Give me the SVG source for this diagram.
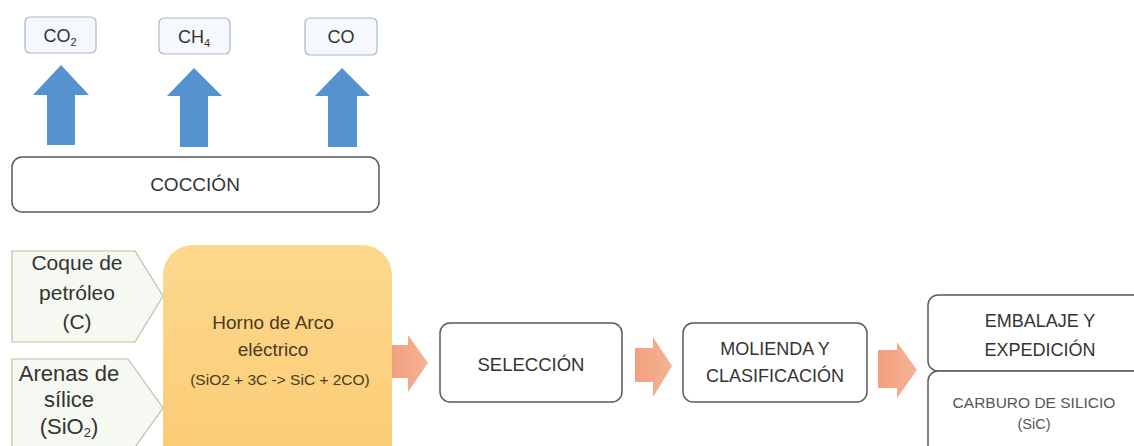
<svg xmlns="http://www.w3.org/2000/svg" width="1134" height="446" viewBox="0 0 1134 446">
<defs>
<linearGradient id="horno" x1="0" y1="0" x2="0" y2="1">
<stop offset="0" stop-color="#fdd88e"/>
<stop offset="1" stop-color="#fbcb73"/>
</linearGradient>
<linearGradient id="orng" x1="0" y1="0" x2="1" y2="0">
<stop offset="0" stop-color="#f1a07f"/>
<stop offset="1" stop-color="#f6b394"/>
</linearGradient>
<style>
.t{font-family:"Liberation Sans",Arial,sans-serif;fill:#333;text-anchor:middle}
.gas{fill:#f5f8fc;stroke:#a9b6c6;stroke-width:1.2}
.box{fill:#fff;stroke:#5a5a5a;stroke-width:1.5}
.inp{fill:#f6f9f1;stroke:#b3c59e;stroke-width:1.2}
.blue{fill:#5592d0}
.org{fill:url(#orng)}
</style>
</defs>
<rect width="1134" height="446" fill="#fff"/>

<g id="gas-co2">
<rect class="gas" x="25" y="17" width="71" height="36" rx="5"/>
<text class="t" x="60" y="42" font-size="18">CO<tspan font-size="11" dy="4">2</tspan></text>
</g>
<g id="gas-ch4">
<rect class="gas" x="159" y="18" width="71" height="36" rx="5"/>
<text class="t" x="194" y="43" font-size="18">CH<tspan font-size="11" dy="4">4</tspan></text>
</g>
<g id="gas-co">
<rect class="gas" x="305" y="18" width="72" height="37" rx="5"/>
<text class="t" x="341" y="43" font-size="18">CO</text>
</g>

<g id="coccion">
<rect class="box" x="12" y="157" width="367" height="55" rx="10"/>
<text class="t" x="195" y="191" font-size="19">COCCIÓN</text>
</g>

<g id="coque">
<polygon class="inp" points="12,251 135,251 163,296 135,342 12,342"/>
<text class="t" x="77" y="270" font-size="21">Coque de</text>
<text class="t" x="77" y="300" font-size="21">petróleo</text>
<text class="t" x="77" y="329" font-size="21">(C)</text>
</g>
<g id="arenas">
<polygon class="inp" points="12,359 128,359 163,408 128,457 12,457"/>
<text class="t" x="69" y="381" font-size="22">Arenas de</text>
<text class="t" x="69" y="407" font-size="22">sílice</text>
<text class="t" x="69" y="434" font-size="22">(SiO<tspan font-size="13" dy="3">2</tspan><tspan dy="-3">)</tspan></text>
</g>

<g id="horno">
<rect x="163" y="245" width="229" height="230" rx="30" fill="url(#horno)"/>
<text class="t" x="273" y="329" font-size="19" style="fill:#4a3b22">Horno de Arco</text>
<text class="t" x="273" y="356" font-size="19" style="fill:#4a3b22">eléctrico</text>
<text class="t" x="280" y="385" font-size="15.5" style="fill:#4a3b22">(SiO2 + 3C -&gt; SiC + 2CO)</text>
</g>

<g id="seleccion">
<rect class="box" x="440" y="323" width="182" height="79" rx="10"/>
<text class="t" x="531" y="371" font-size="18.5">SELECCIÓN</text>
</g>

<g id="molienda">
<rect class="box" x="683" y="323" width="184" height="79" rx="10"/>
<text class="t" x="775" y="355" font-size="18">MOLIENDA Y</text>
<text class="t" x="775" y="382" font-size="18">CLASIFICACIÓN</text>
</g>

<g id="embalaje">
<rect class="box" x="928" y="295" width="220" height="76" rx="10"/>
<text class="t" x="1040" y="327" font-size="18">EMBALAJE Y</text>
<text class="t" x="1040" y="356" font-size="18">EXPEDICIÓN</text>
</g>
<g id="carburo">
<rect class="box" x="928" y="371" width="220" height="90" rx="10"/>
<text class="t" x="1034" y="408" font-size="15.5" style="fill:#555">CARBURO DE SILICIO</text>
<text class="t" x="1034" y="429" font-size="14.5" style="fill:#555">(SiC)</text>
</g>

<g id="connectors">
<polygon class="blue" points="47,145 47,95 33,95 61,65 89,95 75,95 75,145"/>
<polygon class="blue" points="180,147 180,96 167,96 194,68 222,96 208,96 208,147"/>
<polygon class="blue" points="328,147 328,96 315,96 342,68 370,96 357,96 357,147"/>
<polygon class="org" points="392,345 408,345 408,335 428,363 408,392 408,378 392,378"/>
<polygon class="org" points="635,348 653,348 653,337 672,366 653,397 653,382 635,382"/>
<polygon class="org" points="878,350 897,350 897,342 917,370 897,398 897,388 878,388"/>
</g>
</svg>
